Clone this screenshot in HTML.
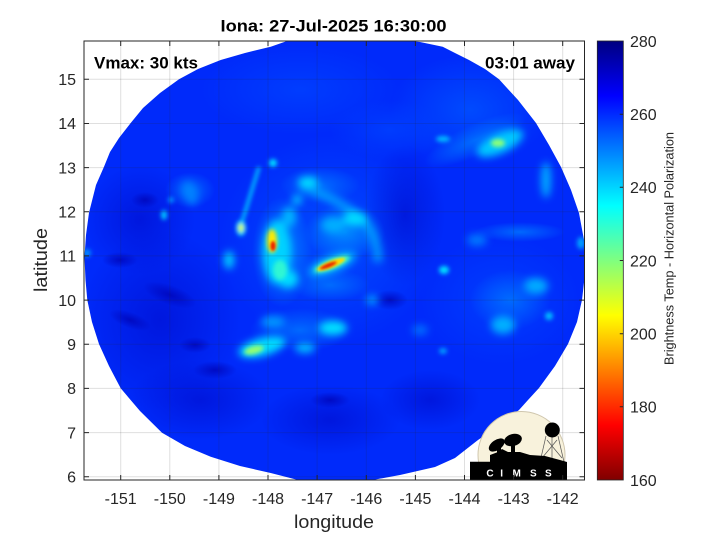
<!DOCTYPE html>
<html><head><meta charset="utf-8"><style>
html,body{margin:0;padding:0;background:#fff;}
svg{display:block;}
text{font-family:"Liberation Sans",sans-serif;fill:#262626;}
</style></head><body>
<svg width="720" height="540" viewBox="0 0 720 540" xmlns="http://www.w3.org/2000/svg">
<defs>
<clipPath id="sw"><path d="M290,40 L270.7,46.7 L245,53 L220.7,60 L198,69 L179,79.3 L160,93 L143,108 L130.7,123 L119,138 L110,152 L104,166.7 L96,185 L89,212.7 L86,235 L84.5,257 L85.5,280 L87.3,300 L92,322 L99,344 L109,366 L120.7,388.3 L140,411 L162,432.7 L185,446 L210.7,456.7 L240,466 L270.7,473 L300,480.5 L370,480.5 L400,475 L435,467 L455,458 L478,440 L500,425 L519,410 L528,400 L539,388 L555,366 L568,344 L577,322 L582,300 L584.5,278 L584.5,257 L584,240 L579,213 L571,190 L561,167 L549,145 L536,123 L518,100 L499,79.3 L485,69 L469,60 L455,53 L442.7,46.7 L420,42 L400,40 Z"/></clipPath>
<clipPath id="ax"><rect x="84" y="41" width="500.5" height="439"/></clipPath>
<filter id="b1" x="-100%" y="-100%" width="300%" height="300%"><feGaussianBlur stdDeviation="1.2"/></filter>
<filter id="b2" x="-100%" y="-100%" width="300%" height="300%"><feGaussianBlur stdDeviation="2.2"/></filter>
<filter id="b4" x="-100%" y="-100%" width="300%" height="300%"><feGaussianBlur stdDeviation="4"/></filter>
<radialGradient id="gL75"><stop offset="0" stop-color="rgb(0,80,255)" stop-opacity="0.85"/><stop offset="1" stop-color="rgb(0,80,255)" stop-opacity="0"/></radialGradient>
<radialGradient id="gL60"><stop offset="0" stop-color="rgb(0,65,255)" stop-opacity="0.8"/><stop offset="1" stop-color="rgb(0,65,255)" stop-opacity="0"/></radialGradient>
<radialGradient id="gL110"><stop offset="0" stop-color="rgb(0,115,255)" stop-opacity="0.85"/><stop offset="1" stop-color="rgb(0,115,255)" stop-opacity="0"/></radialGradient>
<radialGradient id="gL140"><stop offset="0" stop-color="rgb(0,145,255)" stop-opacity="0.9"/><stop offset="1" stop-color="rgb(0,145,255)" stop-opacity="0"/></radialGradient>
<radialGradient id="gD"><stop offset="0" stop-color="rgb(0,15,210)" stop-opacity="0.7"/><stop offset="1" stop-color="rgb(0,15,210)" stop-opacity="0"/></radialGradient>
<radialGradient id="gDD"><stop offset="0" stop-color="rgb(0,5,185)" stop-opacity="0.8"/><stop offset="1" stop-color="rgb(0,5,185)" stop-opacity="0"/></radialGradient>
<linearGradient id="jet" x1="0" y1="0" x2="0" y2="1">
<stop offset="0" stop-color="rgb(0,0,128)"/>
<stop offset="0.125" stop-color="rgb(0,0,255)"/>
<stop offset="0.375" stop-color="rgb(0,255,255)"/>
<stop offset="0.625" stop-color="rgb(255,255,0)"/>
<stop offset="0.875" stop-color="rgb(255,0,0)"/>
<stop offset="1" stop-color="rgb(128,0,0)"/>
</linearGradient>
</defs>

<!-- data swath -->
<g clip-path="url(#ax)">
<g clip-path="url(#sw)">
<rect x="80" y="36" width="510" height="450" fill="rgb(0,42,250)"/>
<!-- large scale tones -->
<ellipse cx="330" cy="240" rx="110" ry="105" fill="url(#gL75)"/>
<ellipse cx="470" cy="110" rx="80" ry="55" fill="url(#gL75)"/>
<ellipse cx="500" cy="300" rx="80" ry="65" fill="url(#gL60)"/>
<ellipse cx="300" cy="90" rx="100" ry="45" fill="url(#gL60)"/>
<ellipse cx="390" cy="130" rx="60" ry="30" fill="url(#gL60)"/>
<ellipse cx="160" cy="320" rx="80" ry="90" fill="url(#gD)"/>
<ellipse cx="200" cy="400" rx="70" ry="40" fill="url(#gD)"/>
<ellipse cx="330" cy="420" rx="70" ry="35" fill="url(#gD)"/>
<ellipse cx="405" cy="215" rx="40" ry="70" fill="url(#gD)"/>
<ellipse cx="140" cy="220" rx="55" ry="55" fill="url(#gD)"/>
<ellipse cx="430" cy="400" rx="50" ry="30" fill="url(#gD)"/>
<!-- dark blotches -->
<ellipse cx="170" cy="295" rx="28" ry="10" fill="url(#gDD)" transform="rotate(20 170 295)"/>
<ellipse cx="130" cy="320" rx="22" ry="8" fill="url(#gDD)" transform="rotate(20 130 320)"/>
<ellipse cx="215" cy="370" rx="22" ry="9" fill="url(#gDD)"/>
<ellipse cx="145" cy="200" rx="14" ry="8" fill="url(#gDD)"/>
<ellipse cx="195" cy="345" rx="16" ry="8" fill="url(#gDD)"/>
<ellipse cx="120" cy="260" rx="18" ry="8" fill="url(#gDD)"/>
<ellipse cx="390" cy="300" rx="18" ry="10" fill="url(#gDD)"/>
<ellipse cx="330" cy="400" rx="20" ry="8" fill="url(#gDD)"/>
<!-- mid-scale light regions -->
<ellipse cx="282" cy="252" rx="30" ry="55" fill="url(#gL140)"/>
<ellipse cx="345" cy="232" rx="40" ry="28" fill="url(#gL140)"/>
<ellipse cx="330" cy="285" rx="40" ry="16" fill="url(#gL110)"/>
<ellipse cx="300" cy="330" rx="50" ry="22" fill="url(#gL110)"/>
<ellipse cx="475" cy="140" rx="55" ry="16" fill="url(#gL110)" transform="rotate(-25 475 140)"/>
<ellipse cx="520" cy="232" rx="45" ry="10" fill="url(#gL110)"/>
<ellipse cx="190" cy="190" rx="25" ry="18" fill="url(#gL110)"/>
<ellipse cx="320" cy="185" rx="40" ry="18" fill="url(#gL110)"/>
<ellipse cx="510" cy="300" rx="40" ry="30" fill="url(#gL110)"/>
<!-- arc bands -->
<g filter="url(#b4)">
<path d="M300,185 Q335,198 358,216 Q378,232 378,262" stroke="rgb(0,170,255)" stroke-width="9" fill="none" opacity="0.8"/>
<ellipse cx="355" cy="219" rx="12" ry="7" fill="rgb(0,220,255)"/>
<ellipse cx="333" cy="225" rx="12" ry="8" fill="rgb(0,190,255)" opacity="0.8"/>
<ellipse cx="308" cy="182" rx="10" ry="5" fill="rgb(0,225,255)"/>
<ellipse cx="289" cy="217" rx="7" ry="10" fill="rgb(0,180,255)"/>
<ellipse cx="297" cy="200" rx="5" ry="5" fill="rgb(0,200,255)"/>
<ellipse cx="277" cy="252" rx="14" ry="32" fill="rgb(0,210,255)"/>
<ellipse cx="288" cy="279" rx="10" ry="9" fill="rgb(0,220,255)"/>
<ellipse cx="333" cy="328" rx="14" ry="7" fill="rgb(0,225,255)"/>
<ellipse cx="273" cy="322" rx="12" ry="6" fill="rgb(0,150,255)"/>
<ellipse cx="262" cy="347" rx="24" ry="9" fill="rgb(0,220,255)" transform="rotate(-15 262 347)"/>
<ellipse cx="305" cy="348" rx="10" ry="5" fill="rgb(0,190,255)"/>
<ellipse cx="229" cy="260" rx="5" ry="9" fill="rgb(0,210,255)"/>
<ellipse cx="190" cy="193" rx="7" ry="12" fill="rgb(0,130,255)" transform="rotate(-20 190 193)"/>
<ellipse cx="500" cy="143" rx="25" ry="10" fill="rgb(0,200,255)" transform="rotate(-25 500 143)"/>
<ellipse cx="546" cy="180" rx="5" ry="18" fill="rgb(0,170,255)"/>
<ellipse cx="536" cy="286" rx="12" ry="8" fill="rgb(0,170,255)"/>
<ellipse cx="503" cy="325" rx="12" ry="9" fill="rgb(0,175,255)"/>
<ellipse cx="477" cy="240" rx="10" ry="6" fill="rgb(0,120,255)"/>
<ellipse cx="372" cy="300" rx="6" ry="5" fill="rgb(0,150,255)"/>
<ellipse cx="420" cy="330" rx="8" ry="5" fill="rgb(0,110,255)"/>
</g>
<g filter="url(#b2)">
<ellipse cx="280" cy="270" rx="7" ry="10" fill="rgb(60,255,200)" opacity="0.8"/>
<ellipse cx="254" cy="350" rx="10" ry="4" fill="rgb(150,255,110)" transform="rotate(-15 254 350)"/>
<ellipse cx="241" cy="228" rx="5" ry="8" fill="rgb(0,210,255)"/>
<line x1="259" y1="167" x2="242" y2="222" stroke="rgb(0,190,255)" stroke-width="3.5"/>
<ellipse cx="273" cy="163" rx="4" ry="4" fill="rgb(0,220,255)"/>
<ellipse cx="164" cy="215" rx="3" ry="5" fill="rgb(0,200,255)"/>
<ellipse cx="171" cy="200" rx="3" ry="3" fill="rgb(0,150,255)"/>
<ellipse cx="87" cy="253" rx="4" ry="4" fill="rgb(0,140,255)"/>
<ellipse cx="498" cy="143" rx="7" ry="4" fill="rgb(140,255,120)"/>
<ellipse cx="443" cy="139" rx="7" ry="3" fill="rgb(0,190,255)"/>
<ellipse cx="581" cy="243" rx="4" ry="6" fill="rgb(0,160,255)"/>
<ellipse cx="444" cy="270" rx="5" ry="4" fill="rgb(0,225,255)"/>
<ellipse cx="549" cy="316" rx="4" ry="4" fill="rgb(0,190,255)"/>
<ellipse cx="443" cy="351" rx="4" ry="3" fill="rgb(0,160,255)"/>
<ellipse cx="272" cy="241" rx="5" ry="12" fill="rgb(255,235,0)"/>
<ellipse cx="241" cy="228" rx="2.5" ry="4" fill="rgb(220,255,40)"/>
</g>
<g filter="url(#b1)">
<ellipse cx="273" cy="246" rx="2.5" ry="5" fill="rgb(235,30,0)"/>
</g>
<!-- streak B -->
<g transform="rotate(-22 332 264)">
<ellipse cx="332" cy="264" rx="26" ry="9" fill="rgb(0,170,255)" filter="url(#b4)"/>
<ellipse cx="332" cy="264" rx="19" ry="5" fill="rgb(80,255,180)" filter="url(#b2)"/>
<ellipse cx="331" cy="264" rx="15" ry="3.5" fill="rgb(255,220,0)" filter="url(#b1)"/>
<ellipse cx="328" cy="264" rx="9" ry="2" fill="rgb(230,30,0)" filter="url(#b1)"/>
</g>
</g>
</g>

<!-- grid -->
<g stroke="rgb(38,38,38)" stroke-opacity="0.15" stroke-width="1">
<line x1="120.7" y1="41" x2="120.7" y2="480"/><line x1="169.8" y1="41" x2="169.8" y2="480"/>
<line x1="218.9" y1="41" x2="218.9" y2="480"/><line x1="268" y1="41" x2="268" y2="480"/>
<line x1="317.1" y1="41" x2="317.1" y2="480"/><line x1="366.3" y1="41" x2="366.3" y2="480"/>
<line x1="415.4" y1="41" x2="415.4" y2="480"/><line x1="464.5" y1="41" x2="464.5" y2="480"/>
<line x1="513.6" y1="41" x2="513.6" y2="480"/><line x1="562.7" y1="41" x2="562.7" y2="480"/>
<line x1="84" y1="79.3" x2="584.5" y2="79.3"/><line x1="84" y1="123.5" x2="584.5" y2="123.5"/>
<line x1="84" y1="167.6" x2="584.5" y2="167.6"/><line x1="84" y1="211.8" x2="584.5" y2="211.8"/>
<line x1="84" y1="255.9" x2="584.5" y2="255.9"/><line x1="84" y1="300.1" x2="584.5" y2="300.1"/>
<line x1="84" y1="344.3" x2="584.5" y2="344.3"/><line x1="84" y1="388.4" x2="584.5" y2="388.4"/>
<line x1="84" y1="432.6" x2="584.5" y2="432.6"/><line x1="84" y1="476.7" x2="584.5" y2="476.7"/>
</g>

<!-- CIMSS logo -->
<g clip-path="url(#ax)">
<circle cx="521.5" cy="455" r="43.5" fill="#f8f2dc" stroke="#cfc6ae" stroke-width="1"/>
<g stroke="#555" stroke-width="0.7" fill="none">
<line x1="546" y1="436" x2="540" y2="462"/><line x1="558" y1="436" x2="564" y2="462"/>
<line x1="547" y1="440" x2="562" y2="458"/><line x1="557" y1="440" x2="542" y2="458"/>
<line x1="552" y1="436" x2="552" y2="462"/>
</g>
<circle cx="552.3" cy="430" r="7.5" fill="#000"/>
<path d="M470,461.7 L490,461.7 L490,455 L498,452 L502,449 L508,452 L520,452 L530,455 L545,456 L560,460 L567,462 L567,480 L470,480 Z" fill="#000"/>
<ellipse cx="496.7" cy="445" rx="9" ry="5" fill="#000" transform="rotate(-35 496.7 445)"/>
<ellipse cx="513" cy="440" rx="9" ry="6" fill="#000" transform="rotate(-15 513 440)"/>
<rect x="497" y="446" width="4" height="8" fill="#000"/>
<rect x="511" y="444" width="4" height="9" fill="#000"/>
<g font-weight="bold" font-size="10" text-anchor="middle">
<text x="490" y="476.7" style="fill:#fff">C</text>
<text x="501.7" y="476.7" style="fill:#fff">I</text>
<text x="516.7" y="476.7" style="fill:#fff">M</text>
<text x="533.3" y="476.7" style="fill:#fff">S</text>
<text x="548.3" y="476.7" style="fill:#fff">S</text>
</g>
</g>

<!-- axes box & ticks -->
<rect x="84" y="41" width="500.5" height="439" fill="none" stroke="#262626" stroke-width="1"/>
<g stroke="#262626" stroke-width="1">
<path d="M120.7,480v-5M169.8,480v-5M218.9,480v-5M268,480v-5M317.1,480v-5M366.3,480v-5M415.4,480v-5M464.5,480v-5M513.6,480v-5M562.7,480v-5"/>
<path d="M120.7,41v5M169.8,41v5M218.9,41v5M268,41v5M317.1,41v5M366.3,41v5M415.4,41v5M464.5,41v5M513.6,41v5M562.7,41v5"/>
<path d="M84,79.3h5M84,123.5h5M84,167.6h5M84,211.8h5M84,255.9h5M84,300.1h5M84,344.3h5M84,388.4h5M84,432.6h5M84,476.7h5"/>
<path d="M584.5,79.3h-5M584.5,123.5h-5M584.5,167.6h-5M584.5,211.8h-5M584.5,255.9h-5M584.5,300.1h-5M584.5,344.3h-5M584.5,388.4h-5M584.5,432.6h-5M584.5,476.7h-5"/>
</g>

<!-- tick labels -->
<g font-size="16" text-anchor="middle">
<text x="120.7" y="504">-151</text><text x="169.8" y="504">-150</text>
<text x="218.9" y="504">-149</text><text x="268" y="504">-148</text>
<text x="317.1" y="504">-147</text><text x="366.3" y="504">-146</text>
<text x="415.4" y="504">-145</text><text x="464.5" y="504">-144</text>
<text x="513.6" y="504">-143</text><text x="562.7" y="504">-142</text>
</g>
<g font-size="16" text-anchor="end">
<text x="76" y="85">15</text><text x="76" y="129.2">14</text>
<text x="76" y="173.3">13</text><text x="76" y="217.5">12</text>
<text x="76" y="261.6">11</text><text x="76" y="305.8">10</text>
<text x="76" y="350">9</text><text x="76" y="394.1">8</text>
<text x="76" y="438.3">7</text><text x="76" y="482.4">6</text>
</g>

<!-- axis labels -->
<text x="334" y="528" font-size="18" text-anchor="middle" textLength="80" lengthAdjust="spacingAndGlyphs">longitude</text>
<text transform="translate(47,260) rotate(-90)" font-size="18" text-anchor="middle" textLength="64" lengthAdjust="spacingAndGlyphs">latitude</text>

<!-- title & annotations -->
<text x="333.5" y="31.7" font-size="17" font-weight="bold" text-anchor="middle" textLength="226" lengthAdjust="spacingAndGlyphs" style="fill:#000">Iona: 27-Jul-2025 16:30:00</text>
<text x="94" y="68.3" font-size="16.5" font-weight="bold" textLength="104" lengthAdjust="spacingAndGlyphs" style="fill:#000">Vmax: 30 kts</text>
<text x="575" y="68.3" font-size="16.5" font-weight="bold" text-anchor="end" textLength="90" lengthAdjust="spacingAndGlyphs" style="fill:#000">03:01 away</text>

<!-- colorbar -->
<rect x="597.3" y="41" width="26" height="439" fill="url(#jet)" stroke="#262626" stroke-width="0.8"/>
<g stroke="#262626" stroke-width="1">
<path d="M623.3,114.2h-3.5M623.3,187.3h-3.5M623.3,260.5h-3.5M623.3,333.7h-3.5M623.3,406.8h-3.5"/>
</g>
<g font-size="16">
<text x="630" y="46.8">280</text><text x="630" y="120">260</text>
<text x="630" y="193.1">240</text><text x="630" y="266.3">220</text>
<text x="630" y="339.5">200</text><text x="630" y="412.6">180</text>
<text x="630" y="485.8">160</text>
</g>
<text transform="translate(673.3,248.5) rotate(-90)" font-size="12.5" text-anchor="middle" textLength="233" lengthAdjust="spacingAndGlyphs">Brightness Temp - Horizontal Polarization</text>
</svg>
</body></html>
